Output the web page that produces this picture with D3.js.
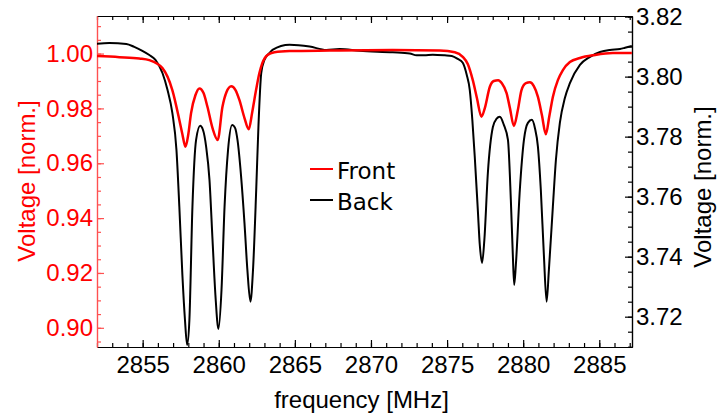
<!DOCTYPE html>
<html>
<head>
<meta charset="utf-8">
<script src="https://cdn.jsdelivr.net/npm/d3@7"></script>
<style>
  body { margin: 0; background: #fff; }
  text { font-family: "Liberation Sans", Arial, sans-serif; }
</style>
</head>
<body>
<div id="chart"></div>
<script>
// Data
// Front (red) on the left axis
var frontFreq = [2851.95, 2853.47, 2854.78, 2855.44, 2856.3, 2856.95, 2857.41, 2857.61, 2857.81, 2858.0,
  2858.18, 2858.47, 2858.73, 2859.0, 2859.26, 2859.59, 2859.93, 2860.24, 2860.51, 2860.82,
  2861.1, 2861.36, 2861.69, 2861.97, 2862.2, 2862.45, 2862.67, 2862.86, 2863.2, 2863.66,
  2864.65, 2867.28, 2871.43, 2874.52, 2875.51, 2876.03, 2876.36, 2876.69, 2876.96, 2877.26,
  2877.48, 2877.81, 2878.07, 2878.36, 2878.6, 2878.91, 2879.13, 2879.39, 2879.65, 2879.89,
  2880.18, 2880.44, 2880.7, 2880.97, 2881.23, 2881.49, 2881.72, 2881.95, 2882.28, 2882.61,
  2883.07, 2883.73, 2884.71, 2885.89, 2887.14];
var frontVolt = [0.9991, 0.9987, 0.9982, 0.9976, 0.9947, 0.9867, 0.9758, 0.9706, 0.9660, 0.9706,
  0.9783, 0.9849, 0.9873, 0.9856, 0.9805, 0.9728, 0.9685, 0.9805, 0.9860, 0.9881,
  0.9867, 0.9830, 0.9765, 0.9724, 0.9787, 0.9867, 0.9929, 0.9965, 0.9995, 1.0005,
  1.0009, 1.0011, 1.0013, 1.0011, 1.0005, 0.9988, 0.9962, 0.9903, 0.9838, 0.9770,
  0.9801, 0.9879, 0.9900, 0.9903, 0.9892, 0.9856, 0.9801, 0.9736, 0.9794, 0.9867,
  0.9892, 0.9895, 0.9881, 0.9842, 0.9776, 0.9706, 0.9772, 0.9842, 0.9903, 0.9940,
  0.9969, 0.9984, 0.9995, 1.0002, 1.0002];

// Back (black) on the right axis
var backFreq = [2851.95, 2852.81, 2853.93, 2854.45, 2854.98, 2855.44, 2855.84, 2856.3, 2856.63, 2856.95,
  2857.22, 2857.41, 2857.61, 2857.78, 2857.92, 2858.07, 2858.27, 2858.51, 2858.78, 2858.96,
  2859.17, 2859.39, 2859.59, 2859.78, 2859.98, 2860.18, 2860.38, 2860.61, 2860.88, 2861.07,
  2861.23, 2861.46, 2861.69, 2861.88, 2862.08, 2862.25, 2862.46, 2862.61, 2862.79, 2863.0,
  2863.34, 2863.53, 2864.65, 2865.97, 2867.07, 2867.94, 2869.26, 2871.43, 2872.55, 2873.0,
  2873.5, 2874.06, 2874.85, 2875.31, 2875.7, 2876.03, 2876.29, 2876.49, 2876.66, 2876.82,
  2877.02, 2877.15, 2877.3, 2877.45, 2877.68, 2878.01, 2878.24, 2878.47, 2878.73, 2879.0,
  2879.19, 2879.32, 2879.41, 2879.52, 2879.78, 2880.05, 2880.31, 2880.57, 2880.77, 2880.97,
  2881.16, 2881.36, 2881.54, 2881.69, 2881.95, 2882.15, 2882.41, 2882.74, 2883.07, 2883.73,
  2884.39, 2885.05, 2885.7, 2886.36, 2886.69, 2887.14];
var backVolt = [3.8109, 3.8112, 3.8109, 3.8099, 3.8086, 3.8072, 3.8056, 3.8012, 3.7956, 3.7879,
  3.7756, 3.7566, 3.7339, 3.7189, 3.7106, 3.7189, 3.7566, 3.7789, 3.7836, 3.7823,
  3.7767, 3.7656, 3.7456, 3.7272, 3.7159, 3.7289, 3.7566, 3.7756, 3.7839, 3.7829,
  3.7789, 3.7672, 3.7512, 3.7356, 3.7250, 3.7356, 3.7622, 3.7839, 3.8012, 3.8056,
  3.8079, 3.8089, 3.8106, 3.8100, 3.8089, 3.8092, 3.8086, 3.8081, 3.8077, 3.8071,
  3.8071, 3.8073, 3.8071, 3.8069, 3.8059, 3.8046, 3.8006, 3.7956, 3.7856, 3.7732,
  3.7556, 3.7439, 3.7379, 3.7456, 3.7679, 3.7832, 3.7859, 3.7866, 3.7839, 3.7789,
  3.7589, 3.7406, 3.7306, 3.7373, 3.7622, 3.7789, 3.7846, 3.7856, 3.7829, 3.7766,
  3.7622, 3.7406, 3.7250, 3.7356, 3.7566, 3.7722, 3.7846, 3.7929, 3.7978, 3.8039,
  3.8066, 3.8082, 3.8089, 3.8092, 3.8096, 3.8102];

// Tick values
var xTicks = [2855, 2860, 2865, 2870, 2875, 2880, 2885];
var leftTicks = [0.90, 0.92, 0.94, 0.96, 0.98, 1.00];
var rightTicks = [3.72, 3.74, 3.76, 3.78, 3.80, 3.82];
var legendNames = ["Front", "Back"];

// Step 1: Set up our chart
var svgWidth = 717;
var svgHeight = 415;

var margin = {
  top: 16,
  right: 85,
  bottom: 68,
  left: 97
};

var width = svgWidth - margin.left - margin.right;
var height = svgHeight - margin.top - margin.bottom;

var red = "#ff0000";

// Step 2: Create an SVG wrapper
var svg = d3.select("#chart").append("svg")
  .attr("width", svgWidth)
  .attr("height", svgHeight);

var chartGroup = svg.append("g")
  .attr("transform", `translate(${margin.left}, ${margin.top})`);

// Step 3: Scales
var xScale = d3.scaleLinear()
  .domain([2852, 2887.15])
  .range([0, width]);

var yLeft = d3.scaleLinear()
  .domain([0.8930, 1.0137])
  .range([height, 0]);

var yRight = d3.scaleLinear()
  .domain([3.7099, 3.8202])
  .range([height, 0]);

// minor ticks
var xMinor = d3.range(2852, 2888, 1);
var leftMinor = d3.range(0.895, 1.0136, 0.005);
var rightMinor = d3.range(3.710, 3.8201, 0.005);

// Step 4: Axes (ticks point inward)
function styleAxis(g, color) {
  g.selectAll("path").attr("stroke", color).attr("stroke-width", 1.2);
  g.selectAll("line").attr("stroke", color).attr("stroke-width", 1.2);
  g.selectAll("text").attr("fill", color)
    .style("font-size", "24px")
    .style("font-family", "'Liberation Sans', Arial, sans-serif");
}

// bottom
var bottomMinor = chartGroup.append("g")
  .attr("transform", `translate(0, ${height})`)
  .call(d3.axisBottom(xScale).tickValues(xMinor).tickSize(-4).tickSizeOuter(0).tickFormat(""));
styleAxis(bottomMinor, "#000");

var bottomAxis = chartGroup.append("g")
  .attr("transform", `translate(0, ${height})`)
  .call(d3.axisBottom(xScale).tickValues(xTicks).tickSize(-7).tickSizeOuter(0).tickPadding(9)
    .tickFormat(d3.format("d")));
styleAxis(bottomAxis, "#000");

// top
var topMinor = chartGroup.append("g")
  .call(d3.axisTop(xScale).tickValues(xMinor).tickSize(-4).tickSizeOuter(0).tickFormat(""));
styleAxis(topMinor, "#000");
var topAxis = chartGroup.append("g")
  .call(d3.axisTop(xScale).tickValues(xTicks).tickSize(-7).tickSizeOuter(0).tickFormat(""));
styleAxis(topAxis, "#000");

// right
var rightMinorG = chartGroup.append("g")
  .attr("transform", `translate(${width}, 0)`)
  .call(d3.axisRight(yRight).tickValues(rightMinor).tickSize(-4).tickSizeOuter(0).tickFormat(""));
styleAxis(rightMinorG, "#000");
var rightAxis = chartGroup.append("g")
  .attr("transform", `translate(${width}, 0)`)
  .call(d3.axisRight(yRight).tickValues(rightTicks).tickSize(-7).tickSizeOuter(0).tickPadding(4)
    .tickFormat(d3.format(".2f")));
styleAxis(rightAxis, "#000");

// left (red)
var leftMinorG = chartGroup.append("g")
  .call(d3.axisLeft(yLeft).tickValues(leftMinor).tickSize(-4).tickSizeOuter(0).tickFormat(""));
styleAxis(leftMinorG, "#ff5050");
var leftAxis = chartGroup.append("g")
  .call(d3.axisLeft(yLeft).tickValues(leftTicks).tickSize(-7).tickSizeOuter(0).tickPadding(4)
    .tickFormat(d3.format(".2f")));
styleAxis(leftAxis, "#ff5050");
leftAxis.selectAll("text").attr("fill", red);

// Step 5: Lines
svg.append("defs").append("clipPath")
  .attr("id", "plotClip")
  .append("rect")
  .attr("width", width)
  .attr("height", height);

var frontData = frontFreq.map((f, i) => ({ f: f, v: frontVolt[i] }));
var backData = backFreq.map((f, i) => ({ f: f, v: backVolt[i] }));

var frontLine = d3.line()
  .x(d => xScale(d.f))
  .y(d => yLeft(d.v))
  .curve(d3.curveMonotoneX);

var backLine = d3.line()
  .x(d => xScale(d.f))
  .y(d => yRight(d.v))
  .curve(d3.curveMonotoneX);

var lines = chartGroup.append("g").attr("clip-path", "url(#plotClip)");

lines.append("path")
  .datum(backData)
  .attr("d", backLine)
  .attr("fill", "none")
  .attr("stroke", "#000")
  .attr("stroke-width", 2);

lines.append("path")
  .datum(frontData)
  .attr("d", frontLine)
  .attr("fill", "none")
  .attr("stroke", red)
  .attr("stroke-width", 2.5);

// Step 6: Axis labels
svg.append("text")
  .attr("transform", `translate(${margin.left + width / 2 - 3}, 408)`)
  .style("text-anchor", "middle")
  .style("font-size", "24px")
  .attr("fill", "#000")
  .text("frequency [MHz]");

svg.append("text")
  .attr("transform", "translate(35, 181) rotate(-90)")
  .style("text-anchor", "middle")
  .style("font-size", "24px")
  .attr("fill", red)
  .text("Voltage [norm.]");

svg.append("text")
  .attr("transform", "translate(711, 187) rotate(-90)")
  .style("text-anchor", "middle")
  .style("font-size", "24px")
  .attr("fill", "#000")
  .text("Voltage [norm.]");

// Step 7: Legend
var legendColors = [red, "#000"];
var legend = svg.append("g")
  .attr("transform", "translate(310, 169)");

legendNames.forEach(function(name, i) {
  legend.append("line")
    .attr("x1", 0)
    .attr("x2", 23)
    .attr("y1", i * 31)
    .attr("y2", i * 31)
    .attr("stroke", legendColors[i])
    .attr("stroke-width", 2);
  legend.append("text")
    .attr("x", 27)
    .attr("y", i * 31 + 10)
    .style("font-family", "'DejaVu Sans', sans-serif")
    .style("font-size", "23px")
    .attr("fill", "#000")
    .text(name);
});
</script>
</body>
</html>
